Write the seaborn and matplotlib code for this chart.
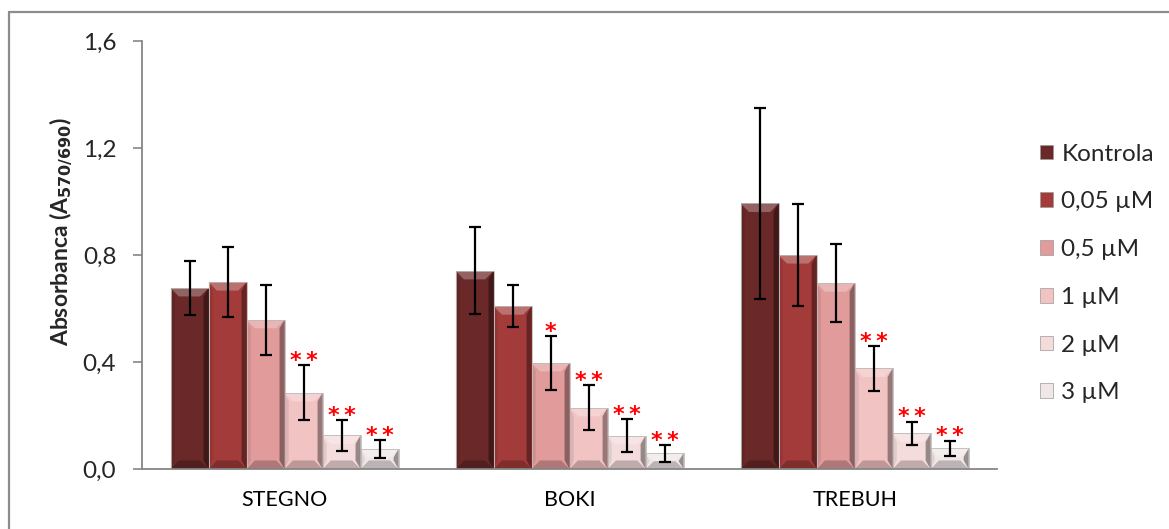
import matplotlib
matplotlib.use("Agg")
import matplotlib.pyplot as plt
import seaborn as sns
import pandas as pd
import numpy as np
from matplotlib.patches import Polygon, Rectangle
from matplotlib.lines import Line2D
from matplotlib.container import BarContainer

# ---------------- data ----------------
categories = ["STEGNO", "BOKI", "TREBUH"]
doses = ["Kontrola", "0,05 µM", "0,5 µM", "1 µM", "2 µM", "3 µM"]
stegno = [0.677, 0.699, 0.558, 0.285, 0.126, 0.075]
boki = [0.741, 0.609, 0.397, 0.229, 0.125, 0.059]
trebuh = [0.993, 0.800, 0.695, 0.376, 0.133, 0.077]
stegno_err = [0.100, 0.132, 0.130, 0.103, 0.058, 0.034]
boki_err = [0.163, 0.078, 0.100, 0.084, 0.061, 0.032]
trebuh_err = [0.357, 0.190, 0.147, 0.083, 0.044, 0.029]
stegno_sig = ["", "", "", "**", "**", "**"]
boki_sig = ["", "", "*", "**", "**", "**"]
trebuh_sig = ["", "", "", "**", "**", "**"]
yticks = [0.0, 0.4, 0.8, 1.2, 1.6]
ytick_labels = ["0,0", "0,4", "0,8", "1,2", "1,6"]
colors = ["#6A2828", "#A23B39", "#E19B9B", "#F2C3C3", "#F5DCDC", "#F1E7E7"]

values = {"STEGNO": stegno, "BOKI": boki, "TREBUH": trebuh}
errors = {"STEGNO": stegno_err, "BOKI": boki_err, "TREBUH": trebuh_err}
sigs = {"STEGNO": stegno_sig, "BOKI": boki_sig, "TREBUH": trebuh_sig}

rows = []
for c in categories:
    for d, v, e, s in zip(doses, values[c], errors[c], sigs[c]):
        rows.append({"cat": c, "dose": d, "val": v, "err": e, "sig": s})
df = pd.DataFrame(rows)

# ---------------- style ----------------
sns.set_style("white")
plt.rcParams["font.family"] = ["Lato", "DejaVu Sans"]

fig = plt.figure(figsize=(11.69, 5.29), dpi=100)
ax = fig.add_axes([0.1215, 0.1134, 0.7315, 0.8091])

sns.barplot(data=df, x="cat", y="val", hue="dose", order=categories,
            hue_order=doses, palette=colors, width=0.8, errorbar=None,
            saturation=1, ax=ax, legend=False, edgecolor="none", linewidth=0)

bar_containers = [c for c in ax.containers if isinstance(c, BarContainer)]

# bevels + error bars + significance marks, derived from seaborn's patches
for hi, cont in enumerate(bar_containers):
    for ci, p in enumerate(cont.patches):
        x0, y0 = p.get_x(), p.get_y()
        w, h = p.get_width(), p.get_height()
        x1, y1 = x0 + w, y0 + h
        bx = w * 0.22
        by = min(0.032, h / 2)
        z = p.get_zorder() + 0.1
        top = Polygon([(x0, y1), (x1, y1), (x1 - bx, y1 - by), (x0 + bx, y1 - by)],
                      closed=True, facecolor="white", alpha=0.28, lw=0, zorder=z)
        bot = Polygon([(x0, y0), (x1, y0), (x1 - bx, y0 + by), (x0 + bx, y0 + by)],
                      closed=True, facecolor="black", alpha=0.22, lw=0, zorder=z)
        left = Polygon([(x0, y0), (x0 + bx * 0.5, y0 + by), (x0 + bx * 0.5, y1 - by), (x0, y1)],
                       closed=True, facecolor="black", alpha=0.08, lw=0, zorder=z)
        right = Polygon([(x1, y0), (x1 - bx * 0.6, y0 + by), (x1 - bx * 0.6, y1 - by), (x1, y1)],
                        closed=True, facecolor="black", alpha=0.38, lw=0, zorder=z)
        for poly in (top, bot, left, right):
            ax.add_patch(poly)
        ax.add_patch(Rectangle((x0, y0), w, h, fill=False, edgecolor="#BBBBBB",
                               lw=0.6, zorder=z + 0.1))
        cat = categories[ci]
        v = values[cat][hi]
        e = errors[cat][hi]
        xc = x0 + w / 2
        ax.errorbar(xc, v, yerr=e, fmt="none", ecolor="black", elinewidth=1.6,
                    capsize=4.5, capthick=1.6, zorder=5)
        s = sigs[cat][hi]
        if s:
            ax.annotate("\u2009".join(s), xy=(xc, v + e), xytext=(0, 3), textcoords="offset points",
                        ha="center", va="center", color="#FF0000", fontsize=16,
                        fontweight="bold", family="DejaVu Sans", zorder=6)

ax.set_ylim(0, 1.6)
ax.set_xlim(-0.5, 2.5)
ax.set_yticks(yticks)
ax.set_yticklabels(ytick_labels)
ax.set_xticks(range(len(categories)))
ax.set_xticklabels(categories)
ax.set_xticks([-0.5, 0.5, 1.5, 2.5], minor=True)
ax.tick_params(axis="x", which="major", length=0, labelsize=15.5, pad=15, colors="black")
ax.tick_params(axis="x", which="minor", length=6, width=1.2, color="#868686", direction="out")
ax.tick_params(axis="y", which="major", length=6.5, width=1.2, color="#868686",
               direction="out", labelsize=17.5, pad=12, left=True)
ax.set_xlabel("")
ax.set_ylabel("Absorbanca (A$_{\\mathbf{570/690}}$)", fontsize=16.5, fontweight="bold")
ax.yaxis.set_label_coords(-0.078, 0.556)
for side in ["top", "right"]:
    ax.spines[side].set_visible(False)
for side in ["left", "bottom"]:
    ax.spines[side].set_color("#868686")
    ax.spines[side].set_linewidth(1.3)

handles = [Rectangle((0, 0), 1, 1, facecolor=c, edgecolor="#999999", lw=0.5) for c in colors]
fig.legend(handles, doses, loc="center left", bbox_to_anchor=(0.881, 0.483),
           frameon=False, fontsize=17.5, handlelength=0.55, handleheight=0.55,
           handletextpad=0.35, labelspacing=1.1, borderaxespad=0)

# outer chart border (left and top visible in the crop)
fig.add_artist(Line2D([9 / 1169, 9 / 1169], [0, 1 - 12 / 529], color="#8C8C8C", lw=1.6,
                      transform=fig.transFigure))
fig.add_artist(Line2D([9 / 1169, 1], [1 - 12 / 529, 1 - 12 / 529], color="#8C8C8C", lw=1.6,
                      transform=fig.transFigure))

fig.savefig("out.png", dpi=100, facecolor="white")
